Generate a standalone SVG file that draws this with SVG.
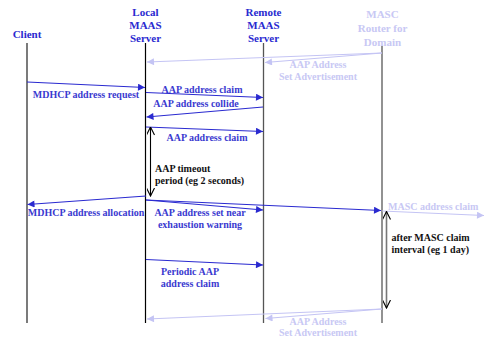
<svg xmlns="http://www.w3.org/2000/svg" width="488" height="339" viewBox="0 0 488 339">
<defs>
<marker id="ab" viewBox="0 0 10 10" refX="10" refY="5" markerWidth="9" markerHeight="7" markerUnits="userSpaceOnUse" orient="auto"><path d="M0,0 L10,5 L0,10 Z" fill="#2a2ad0"/></marker>
<marker id="al" viewBox="0 0 10 10" refX="10" refY="5" markerWidth="9" markerHeight="7" markerUnits="userSpaceOnUse" orient="auto"><path d="M0,0 L10,5 L0,10 Z" fill="#c4c4f4"/></marker>
<marker id="ao" viewBox="0 0 10 10" refX="10" refY="5" markerWidth="9" markerHeight="8" markerUnits="userSpaceOnUse" orient="auto"><path d="M0,0 L10,5 L0,10" fill="none" stroke="#000" stroke-width="1.4"/></marker>
<marker id="aos" viewBox="0 0 10 10" refX="0" refY="5" markerWidth="9" markerHeight="8" markerUnits="userSpaceOnUse" orient="auto"><path d="M10,0 L0,5 L10,10" fill="none" stroke="#000" stroke-width="1.4"/></marker>
</defs>
<style>
text{font-family:"Liberation Serif","Times New Roman",serif;font-weight:bold;}
.h{font-size:11px;fill:#2a2ad0;text-anchor:middle;}
.hl{font-size:11px;fill:#c8c8f4;text-anchor:middle;}
.t{font-size:10px;fill:#3a3ad0;text-anchor:middle;}
.tl{font-size:10px;fill:#c8c8f4;text-anchor:middle;}
.k{font-size:10px;fill:#111;}
.m{stroke:#2a2ad0;stroke-width:1.2;fill:none;marker-end:url(#ab);}
.ml{stroke:#c4c4f4;stroke-width:1.2;fill:none;marker-end:url(#al);}
.ll{fill:none;}
</style>
<g id="client">
<text class="h" x="27" y="38">Client</text>
<line class="ll" x1="27" y1="43" x2="27" y2="323" stroke="#333" stroke-width="1.3"/>
</g>
<g id="local">
<text class="h" x="145.5" y="16">Local</text>
<text class="h" x="145.5" y="29">MAAS</text>
<text class="h" x="145.5" y="42">Server</text>
<line class="ll" x1="145.5" y1="43" x2="145.5" y2="323" stroke="#000" stroke-width="1.2"/>
</g>
<g id="remote">
<text class="h" x="263.5" y="16">Remote</text>
<text class="h" x="263.5" y="29">MAAS</text>
<text class="h" x="263.5" y="42">Server</text>
<line class="ll" x1="263.5" y1="43" x2="263.5" y2="323" stroke="#555" stroke-width="1.3"/>
</g>
<g id="masc">
<text class="hl" x="382.5" y="18">MASC</text>
<text class="hl" x="382.5" y="32">Router for</text>
<text class="hl" x="382.5" y="46">Domain</text>
<line class="ll" x1="382" y1="46" x2="382" y2="323" stroke="#777" stroke-width="1.6"/>
</g>
<g id="connectors">
<line class="ml" x1="382" y1="53" x2="147" y2="62"/>
<line class="ml" x1="382" y1="53" x2="265" y2="62.5"/>
<line class="m" x1="27" y1="82" x2="145" y2="87.5"/>
<line class="m" x1="146" y1="92.5" x2="263" y2="97.5"/>
<line class="m" x1="263" y1="107" x2="146.5" y2="117"/>
<line class="m" x1="146" y1="127" x2="263" y2="131.5"/>
<line x1="150.5" y1="127" x2="150.5" y2="196" stroke="#000" stroke-width="1.1" marker-start="url(#aos)" marker-end="url(#ao)"/>
<line class="m" x1="146" y1="196" x2="27.5" y2="204.5"/>
<line class="m" x1="146" y1="200" x2="263" y2="210"/>
<line class="m" x1="146" y1="200" x2="381" y2="210.5"/>
<line class="ml" x1="382" y1="211" x2="484" y2="215.5"/>
<line x1="386.5" y1="211.5" x2="386.5" y2="308" stroke="#777" stroke-width="1.6" marker-start="url(#aos)" marker-end="url(#ao)"/>
<line class="m" x1="146" y1="259.5" x2="263" y2="265"/>
<line class="ml" x1="382" y1="309" x2="147" y2="319"/>
<line class="ml" x1="382" y1="309" x2="265.5" y2="318.5"/>
</g>
<g id="labels">
<text class="tl" x="318" y="68">AAP Address</text>
<text class="tl" x="318" y="80">Set Advertisement</text>
<text class="t" x="86" y="98">MDHCP address request</text>
<text class="t" x="202" y="92.5">AAP address claim</text>
<text class="t" x="196" y="107">AAP address collide</text>
<text class="t" x="207" y="141">AAP address claim</text>
<text class="k" x="155" y="171.5">AAP timeout</text>
<text class="k" x="155" y="184">period (eg 2 seconds)</text>
<text class="t" x="86" y="216">MDHCP address allocation</text>
<text class="t" x="200" y="215.5">AAP address set near</text>
<text class="t" x="200" y="228">exhaustion warning</text>
<text class="tl" x="388" y="209.5" style="text-anchor:start">MASC address claim</text>
<text class="k" x="391.5" y="240.5">after MASC claim</text>
<text class="k" x="391.5" y="253">interval (eg 1 day)</text>
<text class="t" x="190" y="274.5">Periodic AAP</text>
<text class="t" x="190" y="286.5">address claim</text>
<text class="tl" x="318" y="324.5">AAP Address</text>
<text class="tl" x="318" y="336">Set Advertisement</text>
</g>
</svg>
